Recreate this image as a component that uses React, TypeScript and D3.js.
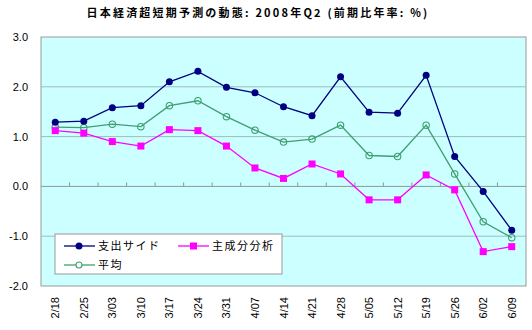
import React from "react";
import * as d3 from "d3";

const categories = ["2/18","2/25","3/03","3/10","3/17","3/24","3/31","4/07","4/14","4/21","4/28","5/05","5/12","5/19","5/26","6/02","6/09"];
const expenditure = [1.29,1.31,1.58,1.62,2.10,2.31,1.99,1.88,1.60,1.42,2.20,1.49,1.47,2.23,0.60,-0.10,-0.88];
const principal = [1.12,1.07,0.90,0.81,1.14,1.12,0.81,0.37,0.16,0.45,0.25,-0.27,-0.27,0.23,-0.07,-1.31,-1.21];
const average = [1.19,1.18,1.25,1.20,1.62,1.72,1.40,1.13,0.89,0.95,1.23,0.62,0.60,1.23,0.25,-0.71,-1.03];
const yTicks = [3, 2, 1, 0, -1, -2];
const title = "日本経済超短期予測の動態: 2008年Q2 (前期比年率: %)";
const seriesNames = ["支出サイド", "主成分分析", "平均"];

const W = 532, H = 330;
const L = 41, R = 526, T = 37, B = 286;

export default function App() {
  const x = d3.scaleBand<string>().domain(categories).range([L, R]);
  const y = d3.scaleLinear().domain([-2, 3]).range([B, T]);
  const cx = (c: string) => (x(c) as number) + x.bandwidth() / 2;
  const line = (vals: number[]) =>
    d3.line<number>().x((_, i) => cx(categories[i])).y((v) => y(v))(vals) as string;
  const font = "'Liberation Sans', Arial, sans-serif";
  const cjk = "'Noto Sans CJK JP', sans-serif";
  const navy = "#000080", mag = "#FF00FF", green = "#3F9F70";

  return (
    <svg width={W} height={H} style={{ position: "absolute", left: 0, top: 0 }}>
      <rect x={0} y={0} width={W} height={H} fill="#fff" />
      <text x={258} y={17} textAnchor="middle" fontFamily={cjk} fontWeight="bold" fontSize={11} letterSpacing={2.2} fill="#000">
        {title}
      </text>
      <rect x={L} y={T} width={R - L} height={B - T} fill="#CCFFFF" stroke="#999" strokeWidth={1} />
      {yTicks.filter((t) => t !== 0 && t !== 3 && t !== -2).map((t) => (
        <line key={t} x1={L} x2={R} y1={y(t)} y2={y(t)} stroke="#9DBDBD" strokeWidth={1} />
      ))}
      <line x1={L} x2={R} y1={y(0)} y2={y(0)} stroke="#8A9A9A" strokeWidth={1} />
      {categories.slice(1).map((c) => (
        <line key={c} x1={x(c)} x2={x(c)} y1={y(0)} y2={y(0) - 4} stroke="#8A9A9A" />
      ))}
      {yTicks.map((t) => (
        <text key={t} x={28} y={y(t) + 4} textAnchor="end" fontFamily={font} fontSize={11} fill="#000">
          {t.toFixed(1)}
        </text>
      ))}
      {categories.map((c) => (
        <text key={c} transform={`translate(${cx(c) + 4},297) rotate(-90)`} textAnchor="end" fontFamily={font} fontSize={11} fill="#000">
          {c}
        </text>
      ))}
      <path d={line(average)} fill="none" stroke={green} strokeWidth={1.3} />
      <path d={line(principal)} fill="none" stroke={mag} strokeWidth={1.3} />
      <path d={line(expenditure)} fill="none" stroke={navy} strokeWidth={1.3} />
      {average.map((v, i) => (
        <circle key={i} cx={cx(categories[i])} cy={y(v)} r={3.2} fill="none" stroke={green} strokeWidth={1.1} />
      ))}
      {principal.map((v, i) => (
        <rect key={i} x={cx(categories[i]) - 3.5} y={y(v) - 3.5} width={7} height={7} fill={mag} />
      ))}
      {expenditure.map((v, i) => (
        <circle key={i} cx={cx(categories[i])} cy={y(v)} r={3.5} fill={navy} />
      ))}
      <g>
        <rect x={55} y={234} width={227} height={40} fill="#fff" stroke="#999" />
        <line x1={64} x2={95} y1={246} y2={246} stroke={navy} strokeWidth={1.3} />
        <circle cx={79} cy={246} r={3.5} fill={navy} />
        <text x={98} y={250} fontFamily={cjk} fontSize={11} letterSpacing={1.5}>{seriesNames[0]}</text>
        <line x1={178} x2={209} y1={246} y2={246} stroke={mag} strokeWidth={1.3} />
        <rect x={190} y={242.5} width={7} height={7} fill={mag} />
        <text x={212} y={250} fontFamily={cjk} fontSize={11} letterSpacing={1.5}>{seriesNames[1]}</text>
        <line x1={64} x2={95} y1={265} y2={265} stroke={green} strokeWidth={1.3} />
        <circle cx={79} cy={265} r={3} fill="#fff" stroke={green} strokeWidth={1.1} />
        <text x={98} y={269} fontFamily={cjk} fontSize={11} letterSpacing={1.5}>{seriesNames[2]}</text>
      </g>
    </svg>
  );
}
